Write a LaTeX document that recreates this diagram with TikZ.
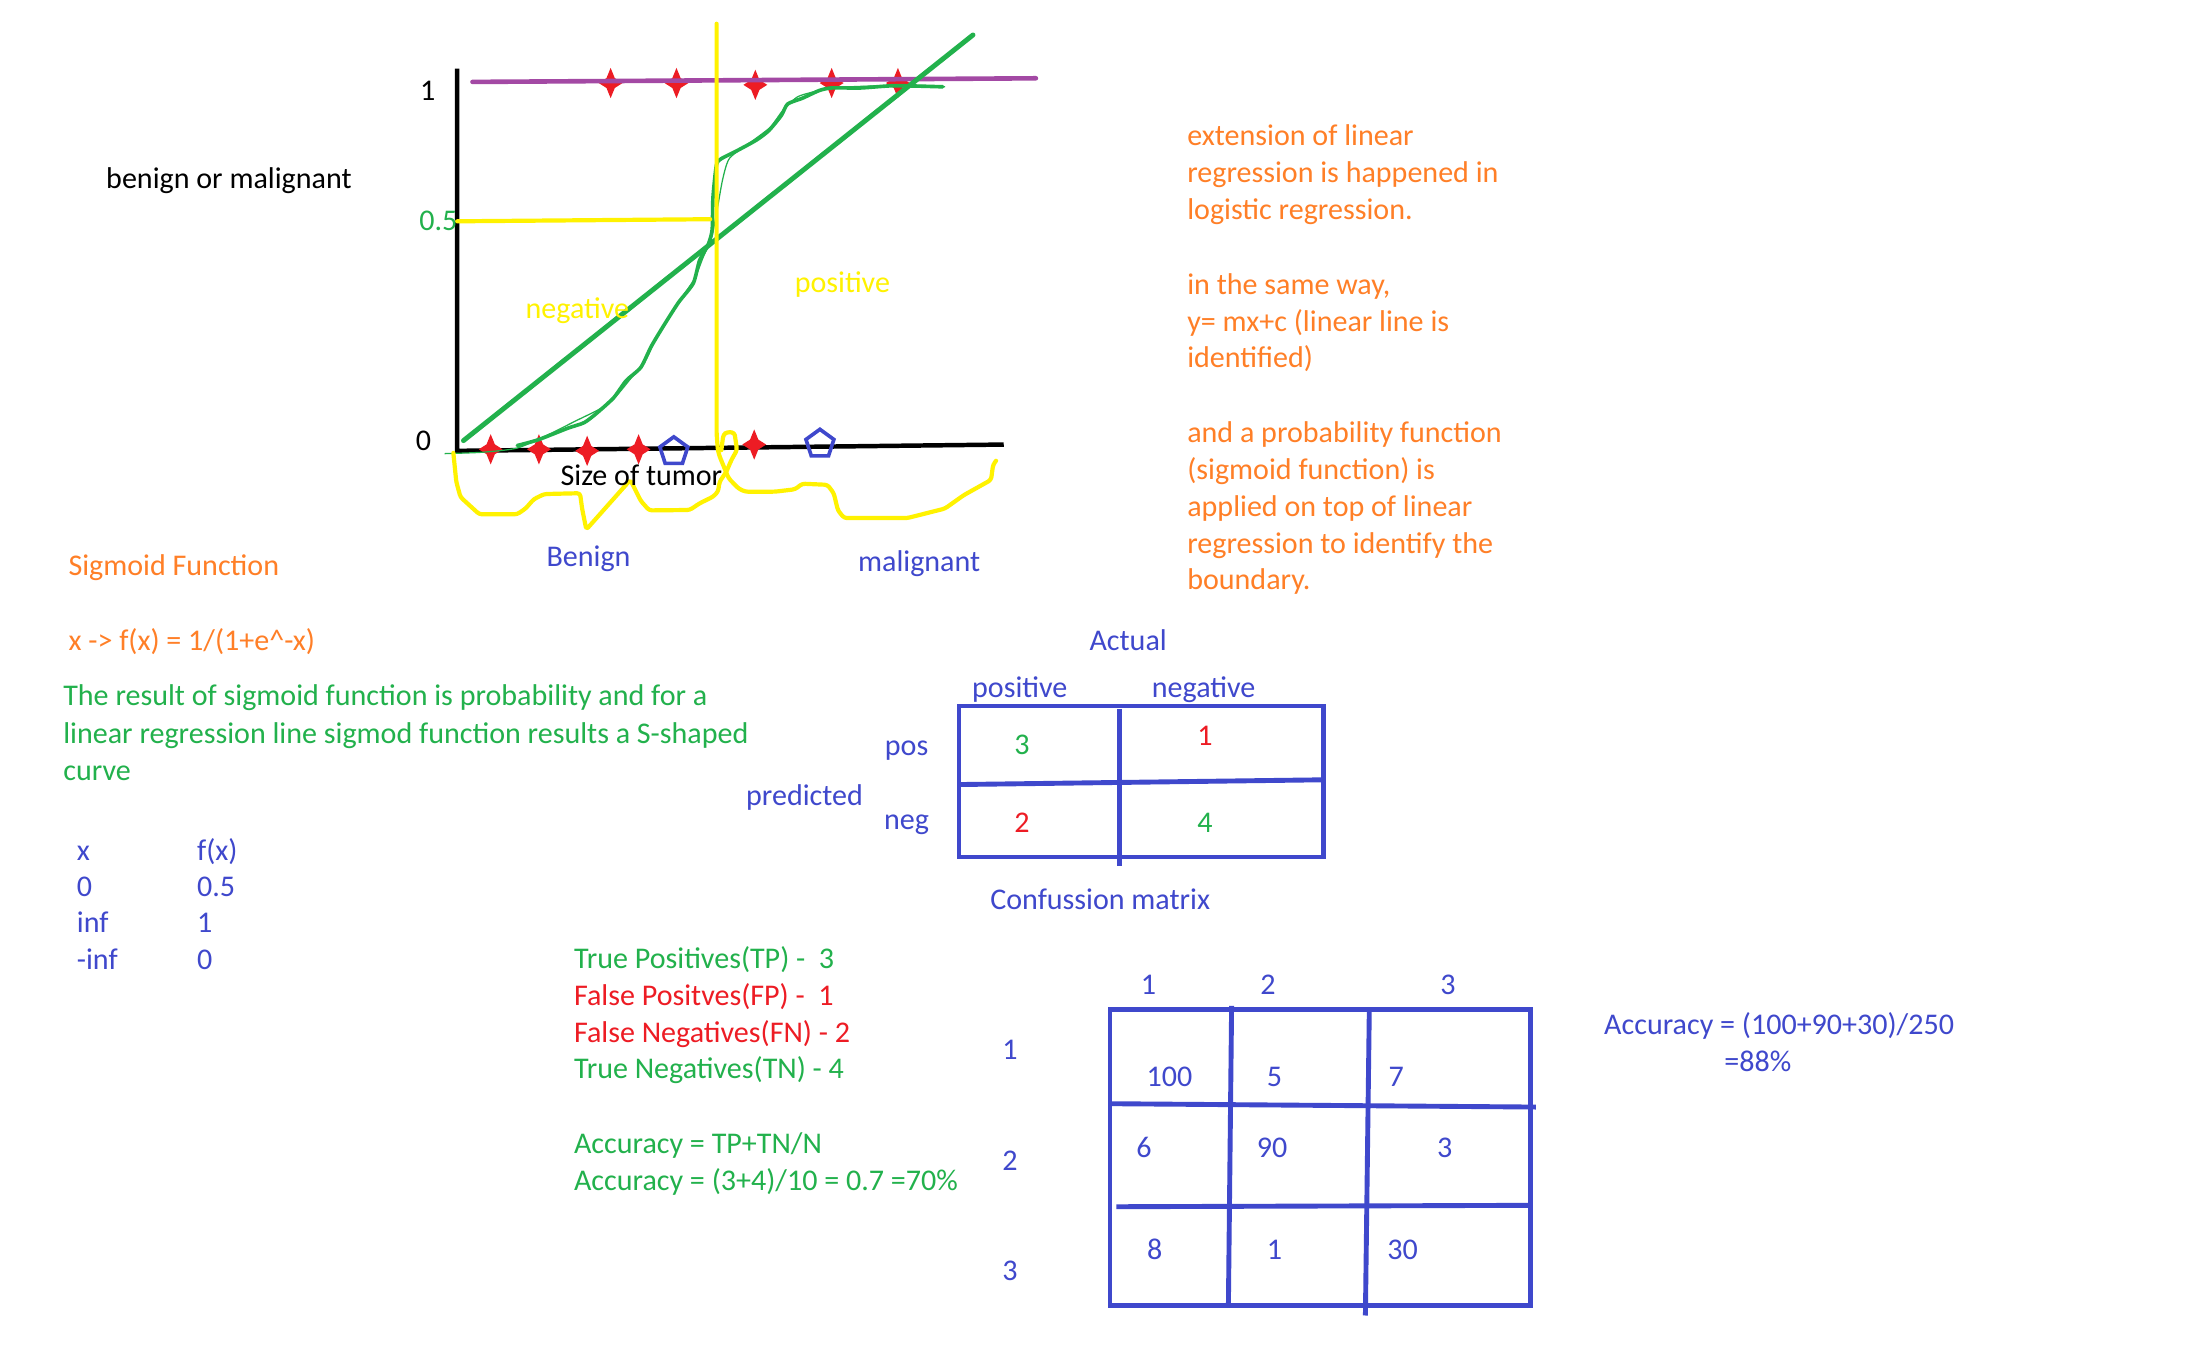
\documentclass[tikz,border=0pt]{standalone}
\usepackage{fontspec}
\setmainfont{Carlito}
\usetikzlibrary{shapes.geometric}
\definecolor{porange}{HTML}{FF7F27}
\definecolor{pgreen}{HTML}{22B14C}
\definecolor{pblue}{HTML}{3F48CC}
\definecolor{pred}{HTML}{ED1C24}
\definecolor{pyellow}{HTML}{FFF200}
\definecolor{ppurple}{HTML}{A349A4}
\begin{document}
\begin{tikzpicture}[x=1pt,y=-1pt,
  txt/.style={inner sep=0pt, outer sep=0pt, font=\fontsize{21.5}{26.3}\selectfont},
  lt/.style={txt, anchor=base west},
  ct/.style={txt, anchor=base},
  redstar/.style={star, star points=4, star point ratio=2.1, minimum size=19pt, inner sep=0pt, fill=pred, draw=pred, line width=1pt, xscale=0.8},
  pent/.style={regular polygon, regular polygon sides=5, minimum size=21pt, inner sep=0pt, draw=pblue, line width=2.6pt},
  axisline/.style={black, line width=3.2pt},
  purpleline/.style={ppurple, line width=3.3pt, line cap=round},
  greenline/.style={pgreen, line width=3.5pt, line cap=round},
  greenthin/.style={pgreen, line width=0.9pt},
  yellowline/.style={pyellow, line width=3pt, line cap=round, line join=round},
  boxline/.style={pblue, line width=3.5pt},
]
\fill[white] (0,0) rectangle (1568,980);
\useasboundingbox (0,0) rectangle (1568,980);

% top stars (under purple line)
\node[redstar] (t1) at (436.8,59.4) {};
\node[redstar] (t2) at (483.9,59.4) {};
\node[redstar] (t3) at (540.3,60.7) {};
\node[redstar] (t4) at (594.9,59.4) {};
\node[redstar] (t5) at (642.3,59.4) {};

% purple line y=1
\draw[purpleline] (338,58.6) -- (741,56);

% axes
\draw[axisline] (327,49) -- (327,322.5) -- (718,318);

% bottom stars
\node[redstar] (b1) at (351,321.4) {};
\node[redstar] (b2) at (385.5,321.4) {};
\node[redstar] (b3) at (420,322.5) {};
\node[redstar] (b4) at (456.8,321.4) {};
\node[redstar] (b5) at (539.5,318) {};

% pentagons
\node[pent] (q1) at (482,323) {};
\node[pent] (q2) at (586.5,317.6) {};

% straight green regression line
\draw[greenline] (331.5,315.2) -- (696,25);

% sigmoid curve (thick + thin hand-drawn)
\draw[pgreen, line width=2.6pt, line cap=round] plot[smooth, tension=0.4] coordinates {(370,318.7) (384.9,314.6) (405.9,306.4) (417.9,302.3) (426.9,295.5) (438.9,284.6) (447.9,272.3) (458.4,262.8) (465.9,247.7) (474.9,232.7) (485.4,216.3) (495.9,202.7) (500.4,186.3) (506.4,175.4) (509.4,164.5) (510,141.3) (512.5,118) (516,113.5) (525.9,108.5) (540.9,100.3) (549.9,93.5) (558.9,82.6) (563.4,74.4) (573.9,70.3) (585.9,64.8) (594.9,62.9) (615.9,62.9) (639.9,61.3) (674.4,62.1)};
\draw[greenthin] plot[smooth, tension=0.4] coordinates {(318,324.5) (345,323.5) (370,320.5) (392,311) (412,301) (430,292) (441,283) (451,271) (461,259) (468,245) (477,230) (487,214) (497,199) (503,184) (509,170) (513,150) (517,128) (522,113) (538,101) (551,91) (560,79) (571,69) (590,64) (610,62) (650,61) (676,62)};

% yellow lines
\draw[yellowline] (327,158.3) -- (508,156.8);
\draw[yellowline, rounded corners=2pt] (512.6,17) -- (512.6,310) -- (513.5,322) -- (514.8,326.6) -- (521.2,342.1) -- (528.1,349.3) -- (532.9,351.7) -- (554.4,351.7) -- (568.7,350) -- (573.9,346) -- (591.9,346.8) -- (596.4,352.8) -- (599.4,365.1) -- (603.9,370.6) -- (648.9,370.6) -- (675.9,363.8) -- (689.4,354.2) -- (708.9,343.3) -- (710.4,332.4) -- (712.5,329.6);
\draw[yellowline, rounded corners=2pt] (516,322) -- (517.4,311) -- (520,309) -- (525.4,309.5) -- (527.2,321.9) -- (523.2,329) -- (519.6,337.4) -- (514.8,344.5) -- (513.6,351.7) -- (510.1,355.3) -- (500.5,360) -- (493.4,364.8) -- (464.4,365.1) -- (458.4,358.3) -- (450.9,343.3) -- (419.4,378.8) -- (416.4,363.8) -- (414.9,352.8) -- (389.4,353.4) -- (381.9,357) -- (375.9,363.8) -- (369.9,367.9) -- (342.9,367.9) -- (329.4,355.6) -- (326.4,344.7) -- (324.3,324);

% graph labels
\node[ct] (one) at (306,72) {1};
\node[ct, text=pgreen] (half) at (313.6,165) {0.5};
\node[ct] (zero) at (303,322) {0};
\node[lt] (bom) at (76,135) {benign or malignant};
\node[lt, text=pyellow] (negl) at (376,228) {negative};
\node[lt, text=pyellow] (posl) at (568.5,209.5) {positive};
\node[lt] (size) at (401,347) {Size of tumor};
\node[ct, text=pblue] (benign) at (421,405.5) {Benign};
\node[ct, text=pblue] (malig) at (657.5,408.5) {malignant};

% orange explanation
\node[lt, text=porange] (o1) at (849.3,104.4) {extension of linear};
\node[lt, text=porange] (o2) at (849.3,130.7) {regression is happened in};
\node[lt, text=porange] (o3) at (849.3,157) {logistic regression.};
\node[lt, text=porange] (o4) at (849.3,210.6) {in the same way,};
\node[lt, text=porange] (o5) at (849.3,236.9) {y= mx+c (linear line is};
\node[lt, text=porange] (o6) at (849.3,263.2) {identified)};
\node[lt, text=porange] (o7) at (849.3,316.8) {and a probability function};
\node[lt, text=porange] (o8) at (849.3,343.1) {(sigmoid function) is};
\node[lt, text=porange] (o9) at (849.3,369.4) {applied on top of linear};
\node[lt, text=porange] (o10) at (849.3,395.7) {regression to identify the};
\node[lt, text=porange] (o11) at (849.3,422) {boundary.};

% sigmoid section
\node[lt, text=porange] (sigt) at (49,412) {Sigmoid Function};
\node[lt, text=porange] (sigf) at (49,465.5) {x -> f(x) = 1/(1+e\textasciicircum-x)};
\node[lt, text=pgreen] (g1) at (45.3,505) {The result of sigmoid function is probability and for a};
\node[lt, text=pgreen] (g2) at (45.3,531.5) {linear regression line sigmod function results a S-shaped};
\node[lt, text=pgreen] (g3) at (45.3,558) {curve};

% x / f(x) table
\node[lt, text=pblue] (tx) at (55,615.5) {x};
\node[lt, text=pblue] (tf) at (141,615.5) {f(x)};
\node[lt, text=pblue] (tx1) at (55,641) {0};
\node[lt, text=pblue] (tf1) at (141,641) {0.5};
\node[lt, text=pblue] (tx2) at (55,667) {inf};
\node[lt, text=pblue] (tf2) at (141,667) {1};
\node[lt, text=pblue] (tx3) at (55,693.5) {-inf};
\node[lt, text=pblue] (tf3) at (141,693.5) {0};

% confusion matrix
\draw[boxline] (686,505) rectangle (947,613);
\draw[boxline] (686,561.2) -- (947,557.8);
\draw[boxline] (800.8,507) -- (800.8,619.5);
\node[ct, text=pblue] (actual) at (807,465.5) {Actual};
\node[ct, text=pblue] (cpos) at (729.5,499) {positive};
\node[ct, text=pblue] (cneg) at (861,499) {negative};
\node[ct, text=pblue] (rpos) at (648.5,540.5) {pos};
\node[ct, text=pblue] (rneg) at (648.5,593) {neg};
\node[ct, text=pblue] (pred) at (575.5,576.5) {predicted};
\node[ct, text=pgreen] (m11) at (731,539.5) {3};
\node[ct, text=pred] (m12) at (862,533.5) {1};
\node[ct, text=pred] (m21) at (731,595.5) {2};
\node[ct, text=pgreen] (m22) at (862,595.5) {4};
\node[ct, text=pblue] (conf) at (787,650.5) {Confussion matrix};

% metrics
\node[lt, text=pgreen] (tp) at (410.6,692.8) {True Positives(TP) - ~3};
\node[lt, text=pred] (fp) at (410.6,719) {False Positves(FP) - ~1};
\node[lt, text=pred] (fn) at (410.6,745.5) {False Negatives(FN) - 2};
\node[lt, text=pgreen] (tn) at (410.6,771.8) {True Negatives(TN) - 4};
\node[lt, text=pgreen] (acc1) at (410.6,825) {Accuracy = TP+TN/N};
\node[lt, text=pgreen] (acc2) at (410.6,851.3) {Accuracy = (3+4)/10 = 0.7 =70\%};

% 3x3 matrix
\draw[boxline] (794,722) rectangle (1095,934);
\draw[boxline] (881,719.5) -- (878.7,934);
\draw[boxline] (979.5,722) -- (976.7,941);
\draw[boxline] (794,789.5) -- (1098.6,791.9);
\draw[boxline] (798.6,863.2) -- (1093,862.2);
\node[ct, text=pblue] (h1) at (821.5,711.5) {1};
\node[ct, text=pblue] (h2) at (907,711.5) {2};
\node[ct, text=pblue] (h3) at (1035.8,711.5) {3};
\node[ct, text=pblue] (r1) at (722.5,758) {1};
\node[ct, text=pblue] (r2) at (722.5,837) {2};
\node[ct, text=pblue] (r3) at (722.5,916) {3};
\node[ct, text=pblue] (c11) at (836.6,777) {100};
\node[ct, text=pblue] (c12) at (911.7,777) {5};
\node[ct, text=pblue] (c13) at (998.7,777) {7};
\node[ct, text=pblue] (c21) at (818.3,828) {6};
\node[ct, text=pblue] (c22) at (909.9,828) {90};
\node[ct, text=pblue] (c23) at (1033.5,828) {3};
\node[ct, text=pblue] (c31) at (826,900.6) {8};
\node[ct, text=pblue] (c32) at (911.7,900.6) {1};
\node[ct, text=pblue] (c33) at (1003.3,900.6) {30};
\node[lt, text=pblue] (acc3) at (1147.5,740) {Accuracy = (100+90+30)/250};
\node[lt, text=pblue] (acc4) at (1233.5,766.5) {=88\%};
\end{tikzpicture}
\end{document}
